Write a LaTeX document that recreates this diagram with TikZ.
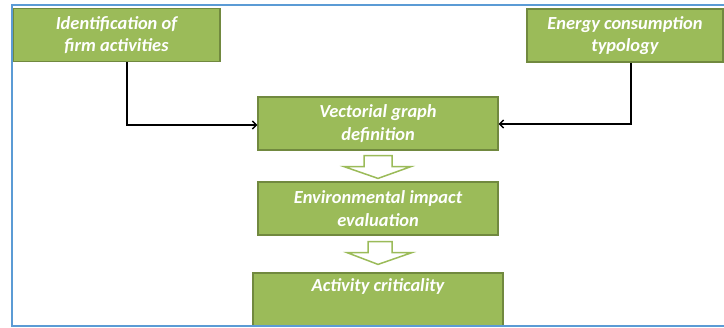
\documentclass[tikz,border=0pt]{standalone}
\usepackage{fontspec}
\setmainfont{Carlito}
\usetikzlibrary{arrows.meta,calc}
\definecolor{boxgreen}{HTML}{9BBB59}
\definecolor{boxedge}{HTML}{71893F}
\definecolor{frameblue}{HTML}{5B9BD5}
\tikzset{
  gbox/.style={draw=boxedge, line width=1.2bp, fill=boxgreen, text=white,
    font=\fontsize{18.5}{22.5}\selectfont\bfseries\itshape, align=center,
    inner sep=0pt, minimum height=53bp},
  conn/.style={draw=black, line width=1.5bp, -{Straight Barb[length=4bp,width=8bp]}},
  hollow/.style={draw=boxgreen, line width=1.5bp, fill=white, line join=miter},
  frameline/.style={draw=frameblue, line width=2bp}
}
\begin{document}
\begin{tikzpicture}[x=1bp,y=-1bp]
\useasboundingbox (0,0) rectangle (724,327);
\node[gbox, minimum width=207bp] (firm) at (116.5,35) {Identification of\\firm activities};
\node[gbox, minimum width=196bp] (energy) at (625,35.5) {Energy consumption\\typology};
\node[gbox, minimum width=240bp] (vec) at (378,123.5) {Vectorial graph\\definition};
\node[gbox, minimum width=240bp] (env) at (378,208.5) {Environmental impact\\evaluation};
\node[gbox, minimum width=250bp] (act) at (378,299.5) {Activity criticality\\\strut};
% connectors
\draw[conn] ([xshift=10.5bp]firm.south) |- ([yshift=-1.5bp]vec.west);
\draw[conn] ([xshift=6bp]energy.south) |- ([yshift=-0.5bp]vec.east);
% hollow arrows
\draw[hollow] ($(vec.south)+(-14,5)$) -- ++(28,0) -- ++(0,11) -- ++(19,0)
  -- ($(env.north)+(0,-3)$) -- ($(vec.south)+(-34,16)$) -- ++(20,0) -- cycle;
\draw[hollow] ($(env.south)+(-10,6)$) -- ++(24,0) -- ++(0,11) -- ++(20,0)
  -- ($(act.north)+(0,-8)$) -- ($(env.south)+(-31,17)$) -- ++(21,0) -- cycle;
% frame
\draw[frameline] (724,5) -- (12,5) -- (12,326) -- (724,326);
\end{tikzpicture}
\end{document}
